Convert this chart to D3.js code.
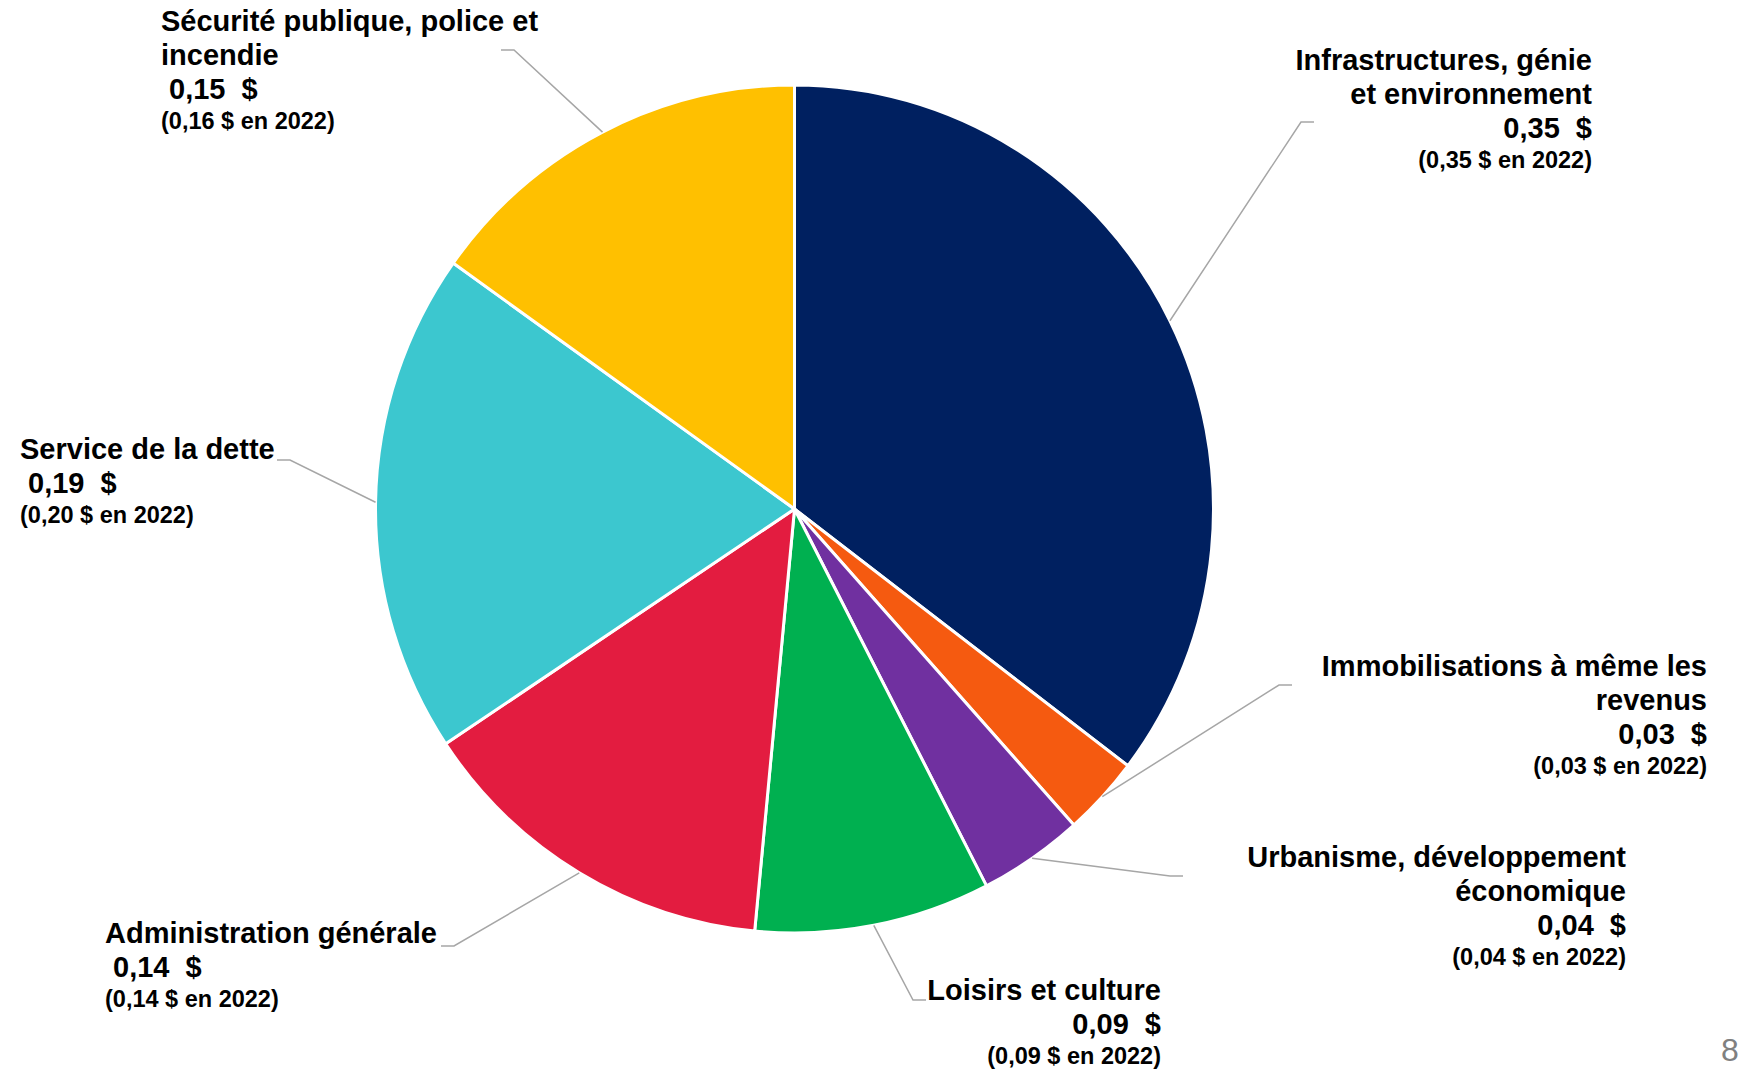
<!DOCTYPE html>
<html lang="fr">
<head>
<meta charset="utf-8">
<title>Répartition des dépenses par dollar</title>
<script src="https://cdn.jsdelivr.net/npm/d3@7"></script>
<style>
  html, body { margin: 0; padding: 0; background: #ffffff; }
  svg { display: block; }
  text { font-family: "Liberation Sans", Arial, Helvetica, sans-serif; white-space: pre; }
</style>
</head>
<body>
<svg id="chart" width="1739" height="1071"></svg>
<script>
// Dépenses par dollar, par fonction (sens horaire à partir du haut)
const categories = [
  ["Infrastructures, génie", "et environnement"],
  ["Immobilisations à même les", "revenus"],
  ["Urbanisme, développement", "économique"],
  ["Loisirs et culture"],
  ["Administration générale"],
  ["Service de la dette"],
  ["Sécurité publique, police et", "incendie"]
];
const values2023 = [0.35, 0.03, 0.04, 0.09, 0.14, 0.19, 0.15];
const values2022 = [0.35, 0.03, 0.04, 0.09, 0.14, 0.20, 0.16];
const sliceColors = ["#002060", "#F55A10", "#7030A0", "#00B050", "#E31C40", "#3CC7CF", "#FFC000"];

// Position des étiquettes : ancrage du texte, première ligne de base, extrémité du trait de rappel
const labelLayout = [
  { anchor: "end",   x: 1592, y: 70,   lx: 1314, ly: 122 },
  { anchor: "end",   x: 1707, y: 676,  lx: 1292, ly: 685 },
  { anchor: "end",   x: 1626, y: 867,  lx: 1183, ly: 876 },
  { anchor: "end",   x: 1161, y: 1000, lx: 926,  ly: 1000 },
  { anchor: "start", x: 105,  y: 943,  lx: 441,  ly: 946 },
  { anchor: "start", x: 20,   y: 459,  lx: 277,  ly: 460 },
  { anchor: "start", x: 161,  y: 31,   lx: 501,  ly: 50 }
];

const cx = 794.5, cy = 509, rx = 419, ry = 424;
const yScale = ry / rx;

const svg = d3.select("#chart");
const fmt = v => v.toFixed(2).replace(".", ",");

const pie = d3.pie().sort(null).value(d => d.value);
const arcs = pie(values2023.map((v, i) => ({ value: v, i })));

const arc = d3.arc().innerRadius(0).outerRadius(rx);
const edge = d3.arc().innerRadius(rx).outerRadius(rx);

// Secteurs
svg.append("g")
  .attr("transform", `translate(${cx},${cy}) scale(1,${yScale})`)
  .selectAll("path")
  .data(arcs)
  .join("path")
  .attr("d", arc)
  .attr("fill", d => sliceColors[d.data.i])
  .attr("stroke", "#ffffff")
  .attr("stroke-width", 3)
  .attr("vector-effect", "non-scaling-stroke")
  .attr("stroke-linejoin", "round");

// Traits de rappel
const line = d3.line();
svg.append("g")
  .selectAll("path")
  .data(arcs)
  .join("path")
  .attr("d", d => {
    const L = labelLayout[d.data.i];
    const [ex, ey] = edge.centroid(d);
    const start = [cx + ex, cy + ey * yScale];
    const side = L.lx > cx ? 1 : -1;
    const elbow = [L.lx - side * 13, L.ly];
    return line([start, elbow, [L.lx, L.ly]]);
  })
  .attr("fill", "none")
  .attr("stroke", "#A6A6A6")
  .attr("stroke-width", 1.5);

// Étiquettes
const labels = svg.append("g")
  .selectAll("text")
  .data(arcs)
  .join("text")
  .attr("text-anchor", d => labelLayout[d.data.i].anchor)
  .attr("fill", "#000000")
  .attr("font-weight", "bold");

labels.each(function(d) {
  const i = d.data.i;
  const L = labelLayout[i];
  const t = d3.select(this);
  let y = L.y;
  categories[i].forEach(txt => {
    t.append("tspan").attr("x", L.x).attr("y", y).attr("font-size", 29).text(txt);
    y += 34;
  });
  const lead = L.anchor === "start" ? " " : "";
  t.append("tspan").attr("x", L.x).attr("y", y).attr("font-size", 29)
    .text(lead + fmt(values2023[i]) + "  $");
  y += 30;
  t.append("tspan").attr("x", L.x).attr("y", y).attr("font-size", 23.5)
    .text("(" + fmt(values2022[i]) + " $ en 2022)");
});

// Numéro de page
svg.append("text")
  .attr("x", 1721).attr("y", 1061)
  .attr("font-size", 32)
  .attr("fill", "#808080")
  .text("8");
</script>
</body>
</html>
